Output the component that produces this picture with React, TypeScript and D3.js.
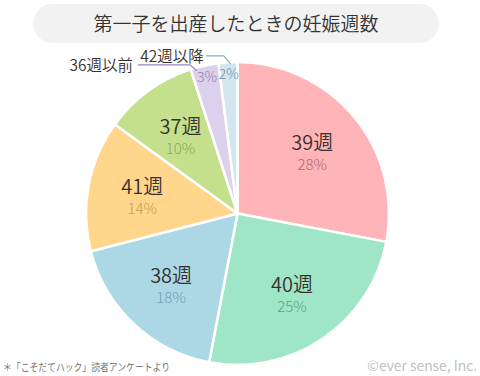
import React from "react";
import * as d3 from "d3";

const categories = ["39週", "40週", "38週", "41週", "37週", "36週以前", "42週以降"];
const values = [28, 25, 18, 14, 10, 3, 2];
const colors = ["#FFB5B8", "#9EE6C6", "#ACD8E5", "#FFD68C", "#C4E08C", "#DCD1EC", "#D3E5EE"];
const pctColors = ["#B0666F", "#5E9E80", "#6FA2B6", "#C49A52", "#8AA85E", "#8E79B6", "#6E94A4"];
const lineColors = ["", "", "", "", "", "#9584BC", "#8FAFBD"];
const title = "第一子を出産したときの妊娠週数";
const note = "＊「こそだてハック」読者アンケートより";
const credit = "©ever sense, Inc.";

const FONT = "'Noto Sans CJK JP', 'Noto Sans', sans-serif";

export default function App() {
  const W = 480, H = 376;
  const cx = 237.5, cy = 213.5, R = 151.5;
  const pie = d3.pie<number>().sort(null).value((d) => d)(values);
  const arc = d3.arc<d3.PieArcDatum<number>>().innerRadius(0).outerRadius(R);
  const labelArc = d3.arc<d3.PieArcDatum<number>>().innerRadius(97).outerRadius(97);
  const smallArc = d3.arc<d3.PieArcDatum<number>>().innerRadius(140).outerRadius(140);

  return (
    <svg width={W} height={H} style={{ position: "absolute", left: 0, top: 0, background: "#fff" }} fontFamily={FONT} fontWeight={350}>
      <rect x={33} y={4} width={406} height={39} rx={19.5} fill="#F2F2F2" />
      <text x={236} y={31} textAnchor="middle" fontSize={19} fill="#333">{title}</text>
      <g transform={`translate(${cx},${cy})`}>
        {pie.map((p, i) => (
          <path key={i} d={arc(p) || ""} fill={colors[i]} stroke="#fff" strokeWidth={2.5} strokeLinejoin="round" />
        ))}
        {pie.map((p, i) => {
          if (values[i] >= 5) {
            const [x, y] = labelArc.centroid(p);
            return (
              <g key={"l" + i}>
                <text x={x} y={y - 1.5} textAnchor="middle" fontSize={20} fill="#3A2F2C">{categories[i]}</text>
                <text x={x} y={y + 18.5} textAnchor="middle" fontSize={15} fontWeight={300} fill={pctColors[i]}>{values[i]}%</text>
              </g>
            );
          }
          const isLav = i === 5;
          const [x, y] = smallArc.centroid(p);
          const ex = isLav ? x - 10 : x + 2;
          const ey = isLav ? y - 6 : y - 10;
          const hy = isLav ? y - 12 : y - 18;
          const hx = isLav ? x - 17 : x - 5;
          const sx = isLav ? x - 69 : x - 23;
          return (
            <g key={"s" + i}>
              <text x={x} y={y + 5} textAnchor="middle" fontSize={14} fontWeight={300} fill={pctColors[i]}>{values[i]}%</text>
              <polyline points={`${sx},${hy} ${hx},${hy} ${ex},${ey}`} fill="none" stroke={lineColors[i]} strokeWidth={1.2} />
              <text x={sx - (isLav ? 5 : 2)} y={hy + 6} textAnchor="end" fontSize={15.5} fill="#3A2F2C">{categories[i]}</text>
            </g>
          );
        })}
      </g>
      <text x={3} y={371} fontSize={10.5} fill="#666" textLength={167} lengthAdjust="spacingAndGlyphs">{note}</text>
      <text x={477} y={371} textAnchor="end" fontSize={14} fill="#BBB">{credit}</text>
    </svg>
  );
}
